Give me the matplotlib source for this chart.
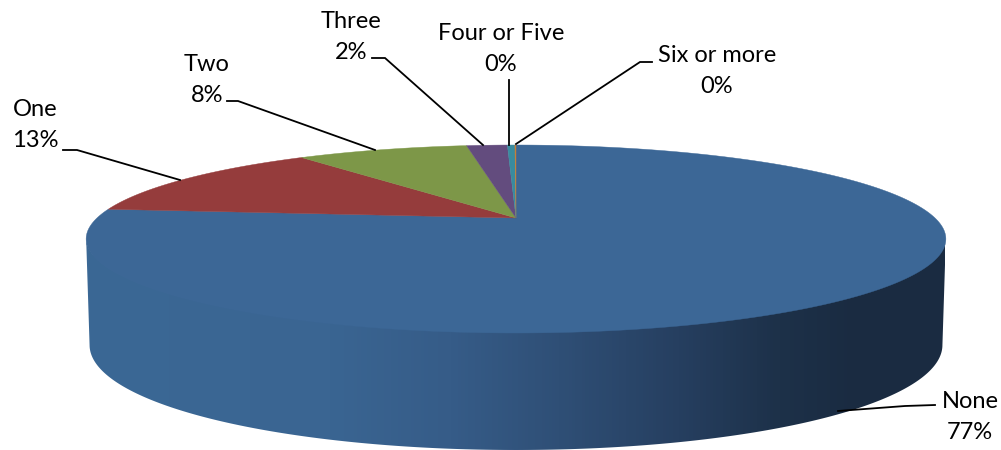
import numpy as np
import matplotlib
matplotlib.use("Agg")
from matplotlib import pyplot as plt
from matplotlib.colors import LinearSegmentedColormap
from matplotlib.patches import Polygon

# datos
categorias = ["None", "One", "Two", "Three", "Four or Five", "Six or more"]
valores = [76.6, 13.1, 8.0, 1.9, 0.35, 0.05]
etiquetas = ["77%", "13%", "8%", "2%", "0%", "0%"]
colores = ["#3c6796", "#953c3c", "#7d9748", "#634c7e", "#398b9f", "#c77f35"]

# texto: x, y del centro; linea: codo y punta
pos_texto = [(970, 417), (35, 125), (207, 80), (351, 37), (501, 49), (717, 71)]
lineas = [
    [(935, 405), (905, 406), (838, 411)],
    [(63, 150), (77, 150), (180, 180)],
    [(227, 101), (238, 101), (375, 150)],
    [(372, 58), (385, 58), (483, 145)],
    [(509, 80), (509, 145)],
    [(652, 62), (640, 62), (516, 144)],
]

# rampa de la pared lateral
rampa_x = [85, 330, 450, 560, 680, 780, 860, 945]
rampa_c = ["#3b6895", "#3a6592", "#365c88", "#2f4f76", "#263f60", "#1d3149", "#1a2b41", "#1a2b41"]

# perspectiva del disco
cx, cy = 516, 218
rx, a, k = 419, 89.3, 0.2234


def proyecta(t):
    # t medido desde arriba en sentido horario
    u = np.sin(t)
    v = np.cos(t)
    w = 1 + k * v
    return cx + rx * u / w, cy - a * v / w


fig = plt.figure(figsize=(10.01, 4.5), dpi=100)
ax = fig.add_axes([0, 0, 1, 1])

# pared
t0 = np.arccos(-k)
t = np.linspace(t0, 2 * np.pi - t0, 300)
xs, ys = proyecta(t)
h = 106 + 11 * (-np.cos(t) - k) / (1 - k)
xb = cx + (xs - cx) * 0.992
yb = ys + h
pared = Polygon(np.r_[np.c_[xs, ys - 1], np.c_[xb, yb][::-1]], closed=True,
                transform=ax.transData, fc="none", ec="none")
ax.add_patch(pared)
mapa = LinearSegmentedColormap.from_list(
    "pared", [((x - 85) / 860, c) for x, c in zip(rampa_x, rampa_c)])
grad = np.linspace(0, 1, 860).reshape(1, -1)
im = ax.imshow(grad, cmap=mapa, extent=(85, 945, 460, 200), aspect="auto", zorder=1)
im.set_clip_path(pared)

# tapa
acum = 0
total = sum(valores)
for valor, color in zip(valores, colores):
    t = np.linspace(acum, acum + valor, max(int(valor * 8), 3)) / total * 2 * np.pi
    xs, ys = proyecta(t)
    ax.fill(np.r_[cx, xs], np.r_[cy, ys], fc=color, ec=color, lw=0.3, zorder=2)
    acum += valor

# etiquetas y lineas guia
for nombre, pct, (x, y), linea in zip(categorias, etiquetas, pos_texto, lineas):
    ax.text(x, y, nombre + "\n" + pct, ha="center", va="center", family="Lato",
            fontsize=17, color="black", linespacing=1.62, zorder=4)
    lx, ly = zip(*linea)
    ax.plot(lx, ly, color="black", lw=1.3, solid_joinstyle="miter", zorder=3)

ax.set_xlim(0, 1001)
ax.set_ylim(450, 0)
ax.axis("off")
fig.savefig("out.png", dpi=100)
